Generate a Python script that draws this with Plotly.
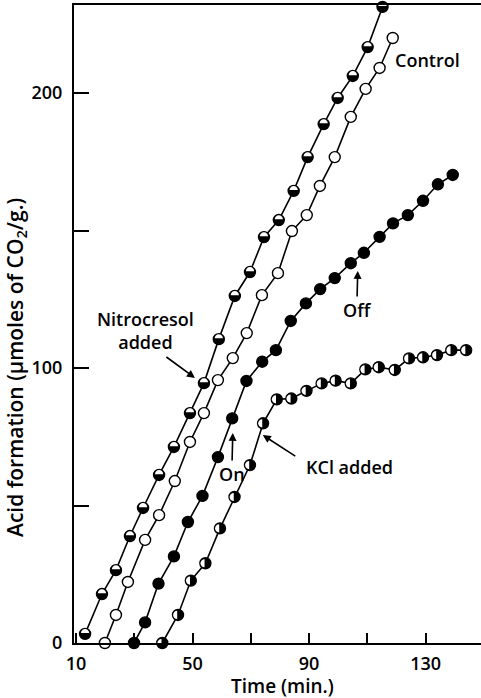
import plotly.graph_objects as go

# ---- data ----
# half-filled (lower half black) series  -> "Nitrocresol added"
nitro_time = [13.1, 18.9, 23.7, 28.5, 33.0, 38.5, 43.6, 49.1, 53.9, 59.0, 64.5, 69.7, 74.5,
              79.6, 84.7, 89.5, 95.0, 99.8, 105.0, 110.1, 115.2]
nitro_acid = [3.3, 17.8, 26.5, 38.9, 49.1, 61.1, 71.3, 83.6, 94.5, 110.5, 126.2, 134.9, 147.6,
              153.8, 164.4, 176.7, 188.7, 198.2, 206.2, 216.7, 231.3]
# open circles -> Control
ctrl_time = [19.9, 23.7, 27.8, 33.7, 38.5, 43.9, 49.1, 53.9, 58.7, 63.8, 68.6, 73.8, 79.3,
             84.1, 89.2, 93.7, 98.8, 104.3, 109.4, 114.2, 118.7]
ctrl_acid = [0, 10.2, 22.2, 37.5, 46.5, 58.9, 73.1, 83.6, 95.6, 103.6, 112.7, 126.5, 134.5,
             149.8, 155.6, 166.2, 176.7, 191.3, 201.5, 209.1, 220.0]
# filled circles -> On / Off
onoff_time = [29.9, 33.7, 38.3, 43.6, 48.4, 53.4, 58.7, 63.6, 68.5, 73.9, 78.6, 83.7, 88.9,
              93.8, 98.8, 104.3, 108.8, 114.2, 118.8, 123.9, 129.1, 134.2, 139.3]
onoff_acid = [0, 7.5, 21.6, 31.5, 44.0, 53.5, 67.6, 81.7, 95.3, 102.3, 106.5, 117.1, 123.5,
              128.7, 132.7, 138.1, 141.9, 147.7, 152.6, 155.6, 160.8, 166.8, 170.2]
# half-filled (right half black) series -> "KCl added"
kcl_time = [39.6, 45.0, 49.4, 54.4, 59.4, 64.4, 69.7, 74.2, 78.9, 83.9, 89.1, 94.3, 99.1,
            104.3, 109.3, 113.9, 119.4, 124.3, 129.1, 133.9, 138.8, 143.9]
kcl_acid = [0, 10.2, 22.7, 29.0, 41.7, 53.1, 64.7, 79.9, 88.6, 88.9, 91.7, 94.4, 95.4,
            94.4, 99.5, 100.3, 99.3, 103.5, 103.9, 104.7, 106.5, 106.5]

x_tickvals = [10, 30, 50, 70, 90, 110, 130]
x_ticktext = ["10", "", "50", "", "90", "", "130"]
y_tickvals = [0, 50, 100, 150, 200]
y_ticktext = ["0", "", "100", "", "200"]

FONT = "Open Sans"
MSIZE = 11
MLINE = 1.4

fig = go.Figure()

def add_series(t, a, fill):
    fig.add_trace(go.Scatter(
        x=t, y=a, mode="lines+markers", cliponaxis=False, showlegend=False,
        line=dict(color="black", width=1.6),
        marker=dict(symbol="circle", size=MSIZE, color=fill,
                    line=dict(color="black", width=MLINE)),
    ))

add_series(nitro_time, nitro_acid, "black")
add_series(ctrl_time, ctrl_acid, "white")
add_series(onoff_time, onoff_acid, "black")
add_series(kcl_time, kcl_acid, "black")

# white halves drawn on top of black circles (pixel-sized, anchored on data)
k = 0.5523
R = 4.1
g = 0.8
top_half = (f"M{-R},{g} C{-R},{g+k*R} {-k*R},{g+R} 0,{g+R} "
            f"C{k*R},{g+R} {R},{g+k*R} {R},{g} Z")
left_half = (f"M{-g},{-R} C{-g-k*R},{-R} {-g-R},{-k*R} {-g-R},0 "
             f"C{-g-R},{k*R} {-g-k*R},{R} {-g},{R} Z")

shapes = []
for t, a in zip(nitro_time, nitro_acid):
    shapes.append(dict(type="path", xref="x", yref="y", xsizemode="pixel", ysizemode="pixel",
                       xanchor=t, yanchor=a, path=top_half, fillcolor="white",
                       line=dict(width=0), layer="above"))
for t, a in zip(kcl_time, kcl_acid):
    shapes.append(dict(type="path", xref="x", yref="y", xsizemode="pixel", ysizemode="pixel",
                       xanchor=t, yanchor=a, path=left_half, fillcolor="white",
                       line=dict(width=0), layer="above"))

tfont = dict(family=FONT, size=18, color="black", weight=600)
afont = dict(family=FONT, size=1, color="black")
annotations = [
    dict(x=118.7, y=212, text="Control", showarrow=False, xanchor="left", yanchor="middle",
         font=tfont),
    dict(x=34.0, y=113.5, text="Nitrocresol<br>added", showarrow=False, xanchor="center",
         yanchor="middle", font=tfont),
    dict(x=50.8, y=96.4, text=" ", showarrow=True, ax=-30, ay=-22, arrowhead=2,
         arrowsize=1, arrowwidth=1.6, arrowcolor="black", font=afont),
    dict(x=63.8, y=76.4, text="On", showarrow=True, ax=-1, ay=41, arrowhead=2,
         arrowsize=1, arrowwidth=1.6, arrowcolor="black", font=tfont),
    dict(x=106.7, y=135.3, text="Off", showarrow=True, ax=-1, ay=39, arrowhead=2,
         arrowsize=1, arrowwidth=1.6, arrowcolor="black", font=tfont),
    dict(x=103.9, y=64.0, text="KCl added", showarrow=False, xanchor="center",
         yanchor="middle", font=tfont),
    dict(x=74.1, y=75.6, text=" ", showarrow=True, ax=34, ay=22, arrowhead=2,
         arrowsize=1, arrowwidth=1.6, arrowcolor="black", font=afont),
    dict(x=0, xref="paper", y=100, yref="y", xshift=-58,
         text="Acid formation (μmoles of CO<sub>2</sub>/g.)", textangle=-90,
         showarrow=False, xanchor="center", yanchor="middle",
         font=dict(family=FONT, size=21, color="black", weight=600)),
    dict(x=0.5, xref="paper", xshift=5, y=0, yref="paper", yshift=-43,
         text="Time (min.)", showarrow=False, xanchor="center", yanchor="middle",
         font=dict(family=FONT, size=19, color="black", weight=600)),
]

fig.update_layout(
    width=481, height=698,
    margin=dict(l=74, r=0, t=5, b=55, pad=0),
    paper_bgcolor="white", plot_bgcolor="white",
    shapes=shapes, annotations=annotations,
    font=tfont,
    xaxis=dict(range=[9.3, 149.0], showgrid=False, zeroline=False,
               showline=True, linecolor="black", linewidth=2, mirror=True,
               ticks="inside", ticklen=10, tickwidth=1.5, tickcolor="black",
               tickvals=x_tickvals, ticktext=x_ticktext, ticklabelstandoff=3,
               tickfont=tfont),
    yaxis=dict(range=[0, 232.0], showgrid=False, zeroline=False,
               showline=True, linecolor="black", linewidth=2, mirror=False,
               ticks="inside", ticklen=15, tickwidth=1.5, tickcolor="black",
               tickvals=y_tickvals, ticktext=y_ticktext, ticklabelstandoff=6,
               tickfont=tfont),
)

fig.write_html("out.html")
